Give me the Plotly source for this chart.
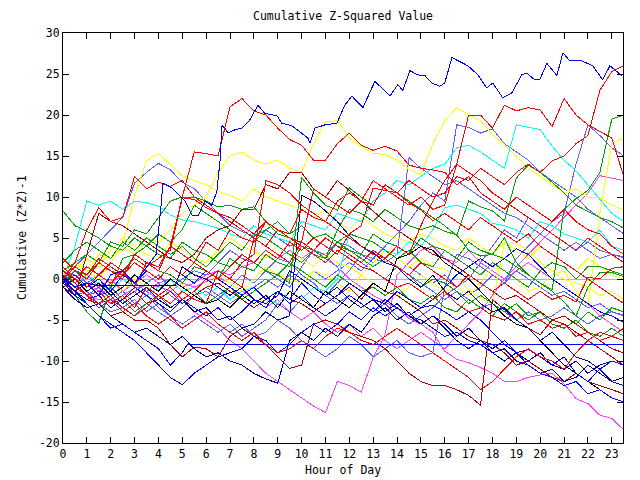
import plotly.graph_objects as go

HOURS = [0, 0.5, 1, 1.5, 2, 2.5, 3, 3.5, 4, 4.5, 5, 5.5, 6, 6.5, 7, 7.5,
         8, 8.5, 9, 9.5, 10, 10.5, 11, 11.5, 12, 12.5, 13, 13.5, 14, 14.5, 15, 15.5,
         16, 16.5, 17, 17.5, 18, 18.5, 19, 19.5, 20, 20.5, 21, 21.5, 22, 22.5, 23, 23.5]
X_TICKS = list(range(24))
Y_TICKS = [-20, -15, -10, -5, 0, 5, 10, 15, 20, 25, 30]

# ---- series ----
blue_top_x = [0, 0.5, 1, 1.5, 2, 2.5, 3, 3.5, 3.9, 4.1, 4.19, 4.57, 5.11, 5.4, 5.66, 5.95, 6.24, 6.45, 6.58, 6.66,
              6.79, 6.91, 7.21, 7.5, 7.83, 8.17, 8.46, 8.97, 9.17, 9.59, 10.26, 10.35, 10.56, 10.98, 11.48, 11.81, 12.11, 12.57, 13.07, 13.36,
              13.7, 14.03, 14.24, 14.54, 14.87, 15.17, 15.46, 15.79, 16.0, 16.3, 16.55, 16.97, 17.39, 17.76, 18.01, 18.43, 18.81, 19.23, 19.44, 19.77,
              19.98, 20.28, 20.7, 20.95, 21.24, 21.74, 22.2, 22.62, 22.92, 23.42]
blue_top_y = [0, -1, -0.5, -2, 0.5, 1, -0.5, 1.5, 3, 8.6, 11.7, 11.1, 9.5, 7.8, 7.7, 9.5, 9.0, 10.7, 14.4, 18.7,
              18.4, 17.8, 18.2, 18.4, 19.4, 21.2, 20.2, 19.9, 19.0, 18.7, 17.2, 16.6, 18.4, 18.8, 19.0, 21.2, 22.3, 20.9, 24.1, 23.3,
              22.3, 23.7, 23.0, 25.4, 24.9, 24.8, 23.9, 23.5, 23.9, 27.0, 26.6, 26.0, 24.9, 23.3, 23.9, 22.1, 22.7, 24.9, 25.1, 24.3,
              24.3, 26.3, 24.8, 27.6, 26.6, 26.6, 26.0, 24.3, 26.0, 24.8]

blue_flat_x = [0, 0.5, 1, 1.5, 2, 2.5, 3, 3.5, 4, 4.5, 5, 5.2, 23.5]
blue_flat_y = [-0.3, -1.5, -3, -4.5, -6, -5.5, -6.5, -7.5, -8.5, -10.5, -9, -8, -8]

navy_step_x = [0, 0.5, 1, 1.5, 4.7, 5, 5.5, 6, 6.5, 7, 7.5, 8, 8.5, 9, 9.5, 10, 10.5, 11, 11.5, 12, 12.5,
               13, 13.5, 14, 14.5, 15, 15.5, 16, 16.5, 17, 17.5, 18, 18.5, 19, 19.5, 20, 20.5, 21, 21.5, 22, 22.5, 23, 23.5]
navy_step_y = [0, -1.5, -0.5, -0.85, -0.85, 1.5, 0.5, 0, -1, -2, -1, -2.5, -3, -2, 1, 0, -1, -2, -1, -2.5, -3.5,
               -2.5, -4, -3, -4.5, -5.5, -4.5, -5.5, -7, -6, -7.5, -8.5, -7.5, -9, -10, -9, -10.5, -11, -10, -11.5, -10.5, -10, -10.5]

zero_x = [0, 23.5]
zero_y = [0, 0]

red_a = [1.5, 0, -1, 0.5, -0.5, 1, -1, 2,
         1, 4, 10, 15.5, 15.3, 15, 21, 22,
         20.5, 20, 18.4, 17, 16.3, 14.5, 14.5, 16.5,
         17.8, 16.3, 15.7, 16.2, 15.6, 13.9, 13.5, 13.3,
         13, 11.5, 12.5, 10.5, 9.5, 8.5, 10, 9,
         8, 7, 8.5, 7, 6, 5.5, 4, 3]
red_end = [2.5, 1, 0, 2, 1, 0, 3, 2,
           1.5, 4, 3, 2, 4.5, 3.5, 6, 5,
           4.5, 7, 6, 5.5, 8.5, 7.5, 7, 9.5,
           10.5, 9.5, 9, 11.5, 10.5, 12, 11, 10,
           10.5, 12.5, 12, 13.5, 12.5, 11.5, 13, 14,
           13, 14.4, 15, 16.5, 17.5, 23, 25.3, 26]
red_b = [0.5, -1, -2, -1.5, -3, -2, -3.5, -1,
         -2, -3, -1.5, -2.5, -3, 1, 0, -1,
         5, 4, 3, 2, 4.5, 11, 10, 9,
         8, 9.5, 12, 11, 10, 9, 10, 8.5,
         9, 14, 20, 20, 18.4, 21.2, 20.5, 20.9,
         20.6, 18.6, 22, 20, 18.8, 18, 17.2, 12.5]
red_c = [0, 2, 6, 8.7, 7, 7.5, 12.5, 11,
         11.8, 11.3, 12, 10, 9, 8, 7.5, 6.5,
         5.5, 7, 6, 5, 4.5, 3.5, 5, 4,
         3, 2, 3.5, 2.5, 1.5, 0.5, 2, 1,
         0, -1, 0.5, -0.5, -1.5, -0.5, -1.5, -2.5,
         -1.5, -2.5, -2, -2.8, 0.2, 0, 1.3, 1.5]
red_d = [1, 0, 1.5, 0.5, 2, 1, 2.5, 1.5,
         2.5, 3.5, 9.9, 9.7, 8.7, 8, 7, 6,
         5, 4, 6, 5, 4, 3, 2, 3.5,
         2.5, 1.5, 1, 0, -1, -0.5, -1.5, -2.5,
         -1.5, -3, -4, -3.5, -4.5, -5, -4, -5.5,
         -5, -6, -5.5, -7, -6.5, -7.5, -7, -7.5]
red_e = [0, 1.5, 0.5, 2.5, 1.5, 0.5, 2, 1,
         0, 1.5, 0.5, 2, 1, 0, 1.5, 3,
         2, 3.5, 2.5, 4.5, 3.5, 5, 4, 3,
         5.5, 6.5, 11.1, 10.8, 10.5, 9.3, 8.4, 7.1,
         8, 7, 6, 7.5, 6.5, 5.5, 4.5, 5.5,
         4, 3, 2, 1, 0, -1, -2, -3]
red_f = [1, -0.5, -2, -3, -2, -3.5, -4.5, -3.5,
         -2, -1, -2.5, -1.5, 0, 1, 0, 2,
         3, 12, 11.5, 10.5, 9, 8, 7, 6,
         5, 4, 3, 2.5, 4, 3, 6.5, 9.5,
         12, 14, 13, 12, 10.5, 9.5, 8.5, 7.5,
         6.5, 5.5, 4.5, 3.5, 5, 4, 3, 2]
red_g = [0.5, -1, -2, -3.5, -2.5, -4, -3, -4.5,
         -5.5, -4.5, -6, -5, -4, -5.5, -6.5, -7.5,
         -6.5, -8, -9, -8.5, -7.5, -8.5, -7, -6,
         -6.5, -7.5, -8, -7, -6, -7, -8, -9,
         -10, -11, -12, -13.5, -12.5, -11, -9.5, -8.5,
         -9.5, -10, -11, -9, -7.5, -6.5, -7, -6]

green_a = [8.3, 6.5, 5.8, 5, 4, 3.5, 5, 4,
           3, 2.5, 4.5, 3.5, 3, 2, 1.5, 3,
           2, 1, 0.5, 2, 1, 0, -1, 0.5,
           -0.5, -1.5, -1, -2, -1, -2.5, -3, -2,
           -3.5, -4, -2.5, -3.5, -4.5, -3, -4, -5,
           -4, -5.5, -6, -5, -6.5, -7, -6, -7]
green_b = [0.5, -0.5, -2, -1.5, -3, -2.5, -4, -3,
           -2, -3.5, -2.5, -1.5, -3, -2, -1, -2.5,
           -1.5, -0.5, 0.5, -0.5, 12.4, 10.5, 9, 8.4,
           11.1, 10, 9, 11.5, 10.5, 9.5, 8.5, 7.4,
           6.5, 5.3, 9.5, 8.8, 8.3, 7.1, 12.3, 13.9,
           13, 11.8, 10.5, 9, 8.3, 7.5, 7, 6.2]
green_c = [0, -2, -4, -5.4, -1, 2.5, 3, 4,
           5.5, 4.5, 6, 9, 8, 7, 6, 5,
           4.5, 6, 7, 5.5, 6.5, 5, 5.5, 4.5,
           5.5, 5, 4.5, 3.5, 2.5, 3.5, 2, 1.5,
           3.5, 2.5, 1.5, 0.5, 2, 1, 0, -1,
           1, 2, 1.5, 0, 1.5, 1.5, 1, 0.5]
green_d = [1, 2, 3, 2, 4.5, 4, 6, 5.5,
           7.5, 9.5, 10, 10, 9.5, 8.8, 9, 8.5,
           8.8, 7, 5.5, 5, 4, 3.5, 5, 4,
           3.5, 2.5, 1.5, 2.5, 1.5, 0.5, -1, 0,
           -0.5, -1.5, -3, -2, -3, -4, -3, -4.5,
           -4, -5, -4.5, -5.5, -4, -5, -3.5, -4]
green_e = [2, 3.5, 4.5, 3.5, 2.5, 4.5, 3.5, 5,
           4, 3, 4, 2.5, 1.5, 3, 4.5, 3.5,
           5.5, 5, 4, 3, 2, 3.5, 2.5, 6,
           8.5, 8, 7, 8.5, 7.5, 6.5, 6, 6.5,
           5.8, 5.4, 3.5, 2.8, 3, 2.5, 1.5, 0.5,
           -0.5, -1.5, -2.8, -4.5, -1, 0.8, 0.8, 0.3]
green_f = [-0.5, 1, 0.5, 2, 1, 0.5, 3, 2,
           1, 0.5, -0.5, 1.5, 1, 0, 2.5, 1.5,
           1, 3, 2, 1.5, 4, 3, 2.5, 4.5,
           3.5, 3, 5.5, 4.5, 4, 3, 5, 4,
           3.5, 2.5, 4.5, 3.5, 3, 5, 2, 0.5,
           -0.5, -1.3, 8.5, 9.8, 10.8, 13, 19.5, 20]

cyan_a = [0, 4, 9.5, 9, 9.5, 8.5, 9.5, 9.3,
          8.9, 7.8, 7.2, 7, 6.6, 6.2, 5.5, 5,
          6.5, 5.5, 5, 4.5, 7, 6.5, 6, 8,
          7.5, 7, 9.5, 10.5, 12, 11.5, 12.5, 13.5,
          14, 16, 16.3, 15.5, 14.5, 13.5, 18.8, 18.5,
          18.2, 16.2, 14.5, 13.2, 11.5, 9.8, 8, 7]
cyan_b = [0.5, -1, 0.5, -0.5, -1.5, 0, -1, -2,
          -1, 0, -1.5, -1, -2, -1, -2.5, -1.5,
          -1, -2.5, -3, -1.5, -2.5, -1, -1.5, 0,
          5.5, 5, 4.5, 3.5, 3, 4.5, 4, 6,
          8.7, 9, 8.5, 8, 6.8, 6.5, 6, 5,
          7, 6.5, 5.5, 5, 4.5, 6, 4, 3.5]

yellow_a = [0, -1, 1, 0, 2, 4, 10.2, 14.4,
            15.3, 14, 12.6, 12, 11.5, 10.7, 10.2, 9.5,
            11, 10, 9.5, 9, 8.5, 7.5, 8.5, 7,
            6, 7.5, 6.5, 5.5, 5, 4.5, 5.5, 5,
            4, 3.5, 5, 4, 3, 4.5, 3.5, 2.5,
            4, 3, 2, 1, 2.5, 1.5, 0.5, 0]
yellow_b = [0.5, 2, 1, 3, 2.5, 4, 3, 5,
            4.5, 6, 8, 9, 10, 13, 15, 15.5,
            14.5, 14, 14.5, 13.5, 13, 16.5, 19.2, 19.3,
            17.2, 16.2, 15.3, 15.2, 14.5, 13.4, 12.7, 16.5,
            19.3, 20.9, 20, 19.3, 17.6, 16.3, 15, 13.5,
            12.5, 11.5, 10.5, 11, 10, 9.9, 9, 8.4]
yellow_c = [1, 0, -1, 0.5, -0.5, -1.5, 0, -1,
            -2, -1, -0.5, -2, -1, 0.5, -0.5, -1.5,
            0, 1.5, 0.5, 0, -0.5, 1, 0.5, -0.5,
            -1.5, 0.5, -0.5, -1.5, -2, -1, 0.5, -0.5,
            -1.5, -1, -2, -0.5, 1.5, 1, 0, -1.5,
            -1, 0.5, 1, -1.5, -3.3, 8, 16.5, 17.2]
yellow_d = [-0.5, 1, 2.5, 1.5, 3.5, 5, 4, 3,
            2.5, 4.5, 3.5, 2.5, 2, 3.5, 5, 4,
            3.5, 2.5, 4, 3, 2.5, 1.5, 3, 2,
            1.5, 0.5, 2, 3.5, 2.5, 1.5, 2.5, 1.5,
            1.2, 0.2, -1.3, -2.3, -3, 4.4, 4.3, 3.5,
            2, 1, 0, -0.5, -1, -2, -1.5, -2.5]

darkred_a = [-0.5, -1.5, -2.5, -3, -4.5, -4, -5, -5,
             -6, -8, -9.5, -8.3, -8.5, -9.5, -7, -6,
             -7, -8, -9.5, -10.9, -10.5, -5.5, -5, -5.5,
             -6.5, -7, -7.5, -8.5, -10, -11.5, -12.5, -13,
             -13, -13.5, -14.2, -15.4, -2.5, -3.8, -5, -6,
             -6.8, -5, -5.5, -6.5, -7.5, -8.5, -9.5, -10.5]
darkred_b = [-1, -2, 3, 8, 7, 6.5, 5.5, 4.5,
             3.5, 2.5, 2, 3, 5, 6, 6.5, 8.5,
             8.5, 11.5, 11, 13, 13, 11, 10, 12,
             10.8, 9.5, 8.3, 7, 6, 5, 4, 3,
             2.5, 1.5, 0.5, -0.5, -1.5, -2.5, -2, -3,
             -4, -5, -4.5, -5.5, -6.5, -7.5, -8.5, -9]
darkred_c = [0, -1, -2, -1.5, -3, -2.5, -1.5, -3,
             -2.5, -1.5, -3, -2, -1, -0.5, -1.5, -2.5,
             -3.5, -2.5, -1.5, -2.5, -3, -4, -3, -2,
             -1, -2.5, -0.5, -1.5, -2, -3, -4, -5.5,
             -5, -6, -7, -7.5, -8, -9, -10.5, -10,
             -11, -12, -12.5, -11.5, -12.5, -13, -13.5, -14]

blue_b = [-0.5, -2, -3, -4.5, -5.5, -6.5, -7.5, -9,
          -10.5, -12, -12.9, -11.5, -10.5, -9.5, -9, -8.5,
          -7, -7.5, -9, -8, -6.5, -5.5, -6.5, -5.5,
          -4, -5, -3.5, -4.5, -3.5, -4.5, -5, -6,
          -7, -6.5, -7.5, -8, -9, -8.5, -10, -10.5,
          -11.5, -12, -13, -12.5, -14, -13.5, -14.5, -15]
blue_c = [0, -1.5, -2.5, -2, -3.5, -2.5, -1, -2,
          -3, -4, -2.5, -3.5, -4.5, -3.5, -5, -4,
          -2.5, -3.5, -1.5, -2.5, -0.5, -2, -3, -2,
          -0.5, -1.5, -2.5, -3, -1.5, -2.5, -3.5, -3.2,
          -4, -5, -4, -5, -6.5, -8, -9, -8.6,
          -9.5, -10.5, -9.5, -11.5, -12.5, -11, -10, -10.5]
blue_d = [-0.5, 0.5, -1, 0, -1.5, 0.5, -0.5, 1,
          0, 1.5, 0.5, -0.5, 1, 0, -1, -2,
          -1, -2.5, -1.5, -3, -2, -3.5, -4.5, -3.5,
          -2, -3, -4, -2.5, -3.5, -4.5, -3.5, -2.5,
          -1, 0.5, 1.5, 2.5, 1.5, 2.5, 3.7, 3,
          1.5, 0, -1, -2, -3, -4, -4.5, -5.3]
navy_a = [-1, -2.5, -3.5, -3, -4.5, -5.5, -6.5, -6,
          -7, -8, -7, -8.5, -9.5, -9, -10, -10.5,
          -11.5, -12.2, -12.7, -7.5, -6.5, -7.5, -6, -7,
          -5.5, -6.5, -4.5, -3.5, -5, -4, -5.5, -4.5,
          -6, -7.5, -8.5, -7.5, -9, -10, -9, -10.5,
          -11.5, -11, -12.5, -12, -10.5, -11.5, -12.5, -12]
navy_b = [0.3, -1, -0.5, -2, -1.5, -3, -2, -1,
          -2.5, -3.5, -2.5, -4, -3.5, -5, -4.5, -6,
          -5.5, -4, -5, -4.5, 10.2, 9.5, 8.3, 7,
          5.3, 4, 3.2, 2, 1.5, 0, -1, 0.5,
          -1.5, -2.5, -1.5, -3, -4, -3.5, -5, -6,
          -7.5, -6.5, -8, -9.5, -10, -11, -12.5, -13]
black_a = [-1, 0, -1.5, -0.5, -2, -1, 0.5, -0.5,
           -1.5, 0, -1, -2, -3, -2.5, -3.5, -2,
           -3, -2, -3.5, -1.5, -2.5, -3.5, -1.5, -2.5,
           -3.5, -2, -0.5, -1.5, 2.5, 3, 4, 3.5,
           2, 1, 0, -1.5, -3, -4.5, -5.5, -6,
           -7.5, -9, -10.5, -11.5, -12.5, -13.5, -14.5, -15]

lav_a = [0.5, 1.5, 3, 4.5, 6, 7.5, 11.7, 13,
         14.1, 13.3, 11.8, 11, 9.5, 8, 6.5, 5.8,
         5.2, 6, 5, 4, 4.5, 3.5, 2.5, 1.5,
         3, 2, 1, 0, 1.5, 0.5, -0.5, -1.5,
         -2.5, -1.5, -2.5, -3.5, -3, -4, -5, -4,
         -5, -4.5, -3.5, -4.5, -5.5, -4.5, -4, -4.4]
lav_b = [0, -1, -2, -1, -2.5, -3.5, -2.5, -4,
         -3, -4.5, -5.5, -4.5, -5.5, -6.5, -5.5, -7,
         -6, -5, -3, -4, -2.5, -1, -2, -0.5,
         1, 3, 2.5, 4, 5.5, 7, 9, 10.5,
         9.5, 18.8, 18.5, 17.8, 18.3, 16.5, 15.5, 14.5,
         13, 12, 11, 10, 8.5, 7.5, 6.5, 5.5]
lav_c = [-0.5, -2, -1.5, -3, -2.5, -1.5, -3, -2,
         -3.5, -4.5, -3.5, -2, -1.5, -2.5, -1, 0.5,
         -0.5, 1, 0, -1, 1.5, 3.5, 3, 4.5,
         4, 3, 2, 3.5, 2.5, 1.5, 0.5, -0.5,
         0.5, -1, -2, -1, 0.5, -0.5, 2.5, 4,
         5.5, 7, 8, 14, 18.8, 17.5, 16, 15]
lav_d = [1, 0.5, -0.5, 0.5, 1.5, 0.5, -0.5, -1.5,
         -0.5, -2, -3, -2, -1, -2, -3, -2,
         -1, 0, -1, 0.5, -0.5, 1, 0, 1,
         2, 1, 2.5, 2, 3, 14.8, 13.5, 12.5,
         11.5, 12, 11, 10, 9, 8, 7.5, 6.5,
         5.5, 4.5, 3.5, 4.5, 3.5, 2.5, 3, 2.6]
lav_e = [-1, -2, -1.5, -3, -4, -3.5, -4.5, -3,
         -4, -5, -6, -5, -4, -5.5, -6.5, -5.5,
         -7, -6.5, -5, -6, -7.5, -8.5, -9.5, -8.5,
         -7, -8, -9.5, -8.5, -7.5, -9, -9.5, -9,
         -1, 3, 2.5, 1.5, 0.5, -0.5, 1, 0,
         -1, -2, -1.5, -2.5, -3.5, -3, -4, -4.5]
lav_f = [0, 1, -0.5, -2, -1, -2.5, -1.5, -0.5,
         0.5, -1, 0, 1, 0.5, 2, 3.5, 2.5,
         2, 1, 2.5, 2, 0.5, -0.5, -2, -3,
         -2, -3, -4, -3, -4.5, -5.5, -4.5, -3.5,
         -2, -1, 0, 2, 4, 6, 5, 7.5,
         6.5, 5.5, 4.5, 3.5, 4.5, 3.5, 3, 2.7]

mag_a = [0, -1, -0.5, -1.5, -0.5, 0.5, -0.5, 0.5,
         -0.5, 0, -1, -0.5, 0.5, 1, 0.5, 1.5,
         2, 1, 2.5, 3.5, 2.5, 3.5, 2.9, 1.5,
         0, -1, -2, -2.8, -3.5, -4.8, -5.5, -6.5,
         -8.8, -9.8, -10.2, -10.8, -11.5, -12.5, -12.5, -12,
         -11.7, -11.5, -12.8, -14.6, -15.2, -16.6, -17, -18.4]
mag_b = [0, -1, -2, -2.5, -2.9, -2, -1.1, -0.8,
         -0.9, -1.5, -2.5, -4, -5, -6, -7.5, -8.5,
         -10, -11.5, -12.5, -13.5, -14.5, -15.5, -16.3, -12.5,
         -13, -13.8, -9.6, -6.8, 0.5, 2, 3.5, 4,
         2.5, 2, 3.5, 2, 1, 0, 1.5, 3,
         4.5, 6, 7.5, 9, 10.5, 12.6, 12.3, 12]
mag_c = [0.5, -0.5, 0.5, -1, 0, -1.5, -0.5, -1.5,
         -2.5, -1.5, -0.5, -1, -0.3, 0.2, -0.5, -1.5,
         -2.5, -3.5, -2.5, -4, -5, -4, -5.5, -6.5,
         -5.5, -7, -6, -7.5, -8.5, -7.5, -6.5, -7.5,
         -8.5, -7, -5.5, -4, -2, 0, 1, 2,
         1, 0, -1, -2, -3, -4.5, -5.5, -6.5]

RED = "#ff0000"
GREEN = "#00a000"
BLUE = "#0000ff"
NAVY = "#0000a8"
BLACK = "#000000"
LAV = "#6060ff"
MAG = "#ff40ff"
CYAN = "#00ffff"
YEL = "#ffff00"
DRED = "#b00000"

series = [
    (zero_x, zero_y, CYAN),
    (HOURS, mag_c, MAG), (HOURS, mag_a, MAG), (HOURS, mag_b, MAG),
    (HOURS, lav_f, LAV), (HOURS, lav_e, LAV), (HOURS, lav_d, LAV), (HOURS, lav_c, LAV),
    (HOURS, lav_b, LAV), (HOURS, lav_a, LAV),
    (HOURS, yellow_d, YEL), (HOURS, yellow_c, YEL), (HOURS, yellow_a, YEL), (HOURS, yellow_b, YEL),
    (HOURS, cyan_b, CYAN), (HOURS, cyan_a, CYAN),
    (HOURS, green_e, GREEN), (HOURS, green_d, GREEN), (HOURS, green_c, GREEN),
    (HOURS, green_a, GREEN), (HOURS, green_b, GREEN), (HOURS, green_f, GREEN),
    (HOURS, darkred_c, DRED), (HOURS, darkred_b, DRED), (HOURS, darkred_a, DRED),
    (HOURS, black_a, BLACK),
    (HOURS, navy_a, NAVY), (HOURS, navy_b, NAVY), (navy_step_x, navy_step_y, NAVY),
    (HOURS, blue_d, BLUE), (HOURS, blue_c, BLUE), (HOURS, blue_b, BLUE),
    (blue_flat_x, blue_flat_y, BLUE),
    (HOURS, red_g, RED), (HOURS, red_f, RED), (HOURS, red_e, RED), (HOURS, red_d, RED),
    (HOURS, red_c, RED), (HOURS, red_b, RED), (HOURS, red_a, RED), (HOURS, red_end, RED),
    (blue_top_x, blue_top_y, BLUE),
]

FONT = "DejaVu Sans Mono"
FSIZE = 11.5
fig = go.Figure()
for xs, ys, col in series:
    if len(xs) != len(ys):
        print("length mismatch", len(xs), len(ys), col)
    fig.add_trace(go.Scatter(x=xs, y=ys, mode="lines",
                             line=dict(color=col, width=1),
                             hoverinfo="skip", showlegend=False))

axis_common = dict(showgrid=False, zeroline=False, showline=True, linecolor="black",
                   linewidth=1, mirror="ticks", ticks="inside", ticklen=6,
                   tickcolor="black", tickwidth=1,
                   tickfont=dict(family=FONT, size=FSIZE, color="black"))
fig.update_xaxes(range=[0, 23.47], tickvals=X_TICKS, ticktext=[str(v) for v in X_TICKS],
                 **axis_common)
fig.update_yaxes(range=[-20, 30], tickvals=Y_TICKS, ticktext=[str(v) for v in Y_TICKS],
                 **axis_common)

fig.update_layout(
    width=640, height=480,
    margin=dict(l=63, r=17, t=33, b=37),
    paper_bgcolor="white", plot_bgcolor="white",
    showlegend=False,
    title=dict(text="Cumulative Z-Squared Value", x=0.5, xref="paper",
               y=1 - 16 / 480, yref="container", yanchor="middle", xanchor="center",
               font=dict(family=FONT, size=FSIZE, color="black")),
    annotations=[
        dict(text="Hour of Day", xref="paper", yref="paper", x=0.5, y=-27 / 410,
             showarrow=False, xanchor="center", yanchor="middle",
             font=dict(family=FONT, size=FSIZE, color="black")),
        dict(text="Cumulative (Z*Z)-1", xref="paper", yref="paper", x=(22 - 63) / 560, y=0.5,
             showarrow=False, xanchor="center", yanchor="middle", textangle=-90,
             font=dict(family=FONT, size=FSIZE, color="black")),
    ],
)

crisp = ("document.querySelectorAll('.scatterlayer path.js-line').forEach("
         "function(p){p.style.shapeRendering='crispEdges';});")
fig.write_html("out.html", post_script=crisp)
